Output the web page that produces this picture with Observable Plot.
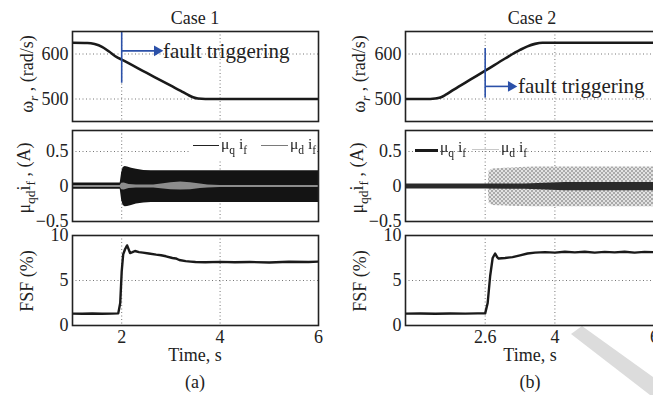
<!DOCTYPE html>
<html><head><meta charset="utf-8">
<script src="https://cdn.jsdelivr.net/npm/d3@7"></script>
<script src="https://cdn.jsdelivr.net/npm/@observablehq/plot@0.6"></script>
<style>
html,body{margin:0;padding:0;background:#fff;}
#fig{position:relative;width:653px;height:395px;overflow:hidden;font-family:"Liberation Serif","Times New Roman",serif;color:#222;}
.lbl{position:absolute;white-space:nowrap;font-size:18px;line-height:18px;}
.rot{transform:translate(-50%,-50%) rotate(-90deg);}
.ctr{transform:translate(-50%,-50%);}
.lbl sub{font-size:0.75em;vertical-align:-0.35em;line-height:0;}
.leg{position:absolute;white-space:nowrap;font-size:15.5px;line-height:16px;color:#222;transform:translateZ(0);will-change:transform;}
.leg sub{font-size:0.75em;vertical-align:-0.4em;line-height:0;}
.sw{position:absolute;height:0;}
#wm{position:absolute;left:0;top:0;width:653px;height:395px;background:#dcdcdc;
 clip-path:polygon(571px 334px,582px 326px,653px 377px,653px 395px,650px 395px);}
svg{position:absolute;}
</style></head>
<body><div id="fig"><div id="wm"></div></div>
<script>
// ---------- data ----------
// tick labels
const timeTicksA = [2, 4, 6];
const timeTicksB = [2.6, 4, 6];
const speedTicks = [500, 600];
const currentTicks = [-0.5, 0, 0.5];
const fsfTicks = [0, 5, 10];

// rotor speed (rad/s)
const speedTimeA = [1, 1.3, 1.45, 1.6, 1.75, 1.9, 2.0, 2.5, 3.0, 3.2, 3.35, 3.45, 3.55, 3.7, 6];
const speedA     = [625, 624.5, 622, 616, 605, 593, 587.5, 558.5, 529.5, 518, 509, 504, 501, 500, 500];
const speedTimeB = [1, 1.5, 1.6, 1.7, 1.8, 1.97, 2.3, 2.61, 3.0, 3.3, 3.45, 3.6, 3.75, 6];
const speedB     = [500, 500, 501, 503.5, 509, 521, 543, 563.5, 590, 609, 617, 622.5, 625, 625];

// fault annotation
const faultTime = [2, 2.6];
const faultRuleLow = [535, 502];
const faultRuleHigh = [648, 612];
const faultArrowY = [607, 528];
const faultArrowEnd = [2.72, 3.12];
const faultTextX = [2.84, 3.26];
const faultLabel = "fault triggering";

// mu_q i_f / mu_d i_f oscillation envelopes (A)
const qTimeA = [1, 1.97, 2.0, 2.03, 2.07, 2.12, 2.2, 2.3, 2.45, 2.6, 3.5, 6];
const qHighA = [0.05, 0.05, 0.2, 0.27, 0.285, 0.28, 0.26, 0.245, 0.23, 0.225, 0.225, 0.225];
const qLowA  = [-0.04, -0.04, -0.2, -0.27, -0.29, -0.285, -0.27, -0.25, -0.235, -0.23, -0.23, -0.23];
const dTimeA = [1, 1.97, 2.0, 2.05, 2.15, 2.3, 2.65, 2.85, 3.0, 3.2, 3.4, 3.6, 3.75, 4, 6];
const dHighA = [0.015, 0.015, 0.045, 0.05, 0.03, 0.02, 0.02, 0.04, 0.055, 0.065, 0.055, 0.035, 0.02, 0.015, 0.015];
const dLowA  = [-0.015, -0.015, -0.045, -0.05, -0.03, -0.02, -0.02, -0.035, -0.045, -0.05, -0.045, -0.03, -0.02, -0.015, -0.015];
const qTimeB = [1, 2.6, 3.4, 3.8, 4.2, 6];
const qHighB = [0.034, 0.034, 0.035, 0.048, 0.057, 0.057];
const qLowB  = [-0.037, -0.037, -0.038, -0.05, -0.06, -0.06];
const dTimeB = [1, 2.66, 2.68, 2.75, 3.0, 3.3, 3.6, 4, 6];
const dHighB = [0.01, 0.01, 0.22, 0.25, 0.26, 0.27, 0.28, 0.28, 0.28];
const dLowB  = [-0.01, -0.01, -0.24, -0.27, -0.28, -0.285, -0.29, -0.29, -0.29];

// FSF (%)
const fsfTimeA = [1, 1.2, 1.4, 1.6, 1.8, 1.93, 1.97, 2.0, 2.03, 2.07, 2.11, 2.17, 2.22, 2.27, 2.35, 2.43, 2.55, 2.7, 2.8, 2.9, 3.03, 3.1, 3.17, 3.3, 3.4, 3.5, 3.7, 4.0, 4.3, 4.6, 5.0, 5.4, 5.8, 6];
const fsfA     = [1.32, 1.3, 1.33, 1.3, 1.32, 1.35, 2.5, 6.0, 7.9, 8.5, 8.9, 8.05, 8.15, 8.28, 8.15, 8.1, 8.0, 7.87, 7.8, 7.69, 7.5, 7.45, 7.28, 7.15, 7.1, 7.05, 7.02, 7.07, 7.02, 7.06, 7.0, 7.08, 7.05, 7.1];
const fsfTimeB = [1, 1.3, 1.6, 1.9, 2.2, 2.45, 2.6, 2.65, 2.7, 2.75, 2.8, 2.84, 2.87, 3.0, 3.15, 3.3, 3.45, 3.6, 3.8, 4.0, 4.2, 4.4, 4.6, 4.8, 5.0, 5.2, 5.4, 5.6, 5.8, 6];
const fsfB     = [1.32, 1.33, 1.3, 1.34, 1.32, 1.35, 1.35, 2.5, 5.5, 7.5, 8.0, 7.6, 7.44, 7.5, 7.6, 7.8, 8.0, 8.1, 8.15, 8.1, 8.2, 8.12, 8.2, 8.1, 8.18, 8.12, 8.2, 8.1, 8.18, 8.15];

// ---------- helpers ----------
const zip = (t, ...cols) => t.map((x, i) => ({t: x, a: cols[0][i], b: cols[1] ? cols[1][i] : undefined}));
const fig = document.getElementById("fig");
const FONT = '"Liberation Serif","Times New Roman",serif';
const fmt = d => (d < 0 ? "\u2212" + Math.abs(d) : String(d));

function panel({left, top, frameW, frameH, yDomain, yTicks, xTicks, xAxis, gridX, marks, defs}) {
  const mL = 45, mR = 5, mT = 3, mB = xAxis ? 28 : 3;
  const chart = Plot.plot({
    width: mL + frameW + mR, height: mT + frameH + mB,
    marginLeft: mL, marginRight: mR, marginTop: mT, marginBottom: mB,
    style: {fontFamily: FONT, fontSize: "18px", background: "transparent", overflow: "visible", color: "#222"},
    x: xAxis ? {domain: [1, 6], label: null} : {domain: [1, 6], label: null, axis: null},
    y: {domain: yDomain, label: null},
    marks: [
      Plot.ruleX(gridX, {stroke: "#666", strokeWidth: 0.9, strokeDasharray: "1,2.5"}),
      Plot.ruleY(yTicks, {stroke: "#666", strokeWidth: 0.9, strokeDasharray: "1,2.5"}),
      ...marks,
      Plot.axisY({ticks: yTicks, tickSize: 0, tickPadding: 4, tickFormat: fmt, fontSize: 18, label: null}),
      ...(xAxis ? [Plot.axisX({ticks: xTicks, tickSize: 0, tickPadding: 5, tickFormat: fmt, fontSize: 18, label: null})] : []),
      Plot.frame({stroke: "#222", strokeWidth: 1.6})
    ]
  });
  if (defs) chart.insertAdjacentHTML("afterbegin", defs);
  chart.style.left = (left - mL) + "px";
  chart.style.top = (top - mT) + "px";
  fig.appendChild(chart);
}

function faultMarks(i) {
  const d = [{x: faultTime[i], y1: faultRuleLow[i], y2: faultRuleHigh[i], ya: faultArrowY[i], xe: faultArrowEnd[i], xt: faultTextX[i]}];
  return [
    Plot.ruleX(d, {x: "x", y1: "y1", y2: "y2", stroke: "#2b50a8", strokeWidth: 1.6}),
    Plot.link(d, {x1: "x", x2: "xe", y1: "ya", y2: "ya", stroke: "#2b50a8", strokeWidth: 1.6}),
    Plot.dot(d, {x: "xe", y: "ya", symbol: "triangle", rotate: 90, r: 4, fill: "#2b50a8", stroke: "none"}),
    Plot.text(d, {x: "xt", y: "ya", text: () => faultLabel, textAnchor: "start", fontSize: 21, fill: "#222"})
  ];
}

const hatch = '<defs><pattern id="hatch" width="4" height="4" patternUnits="userSpaceOnUse">' +
  '<rect width="4" height="4" fill="#e2e2e2"/><path d="M0,0L4,4M4,0L0,4" stroke="#9c9c9c" stroke-width="0.8"/></pattern></defs>';

const cols = [
  {left: 72, frameW: 246, xTicks: timeTicksA, gridX: [2, 4]},
  {left: 405, frameW: 249, xTicks: timeTicksB, gridX: [2.6, 4]}
];
const speedData = [zip(speedTimeA, speedA), zip(speedTimeB, speedB)];
const qData = [zip(qTimeA, qLowA, qHighA), zip(qTimeB, qLowB, qHighB)];
const dData = [zip(dTimeA, dLowA, dHighA), zip(dTimeB, dLowB, dHighB)];
const fsfData = [zip(fsfTimeA, fsfA), zip(fsfTimeB, fsfB)];

cols.forEach((c, i) => {
  panel({...c, top: 31, frameH: 90, yDomain: [450, 650], yTicks: speedTicks, xAxis: false,
    marks: [Plot.line(speedData[i], {x: "t", y: "a", stroke: "#1a1a1a", strokeWidth: 2.6, curve: "monotone-x", clip: true}), ...faultMarks(i)]});
  const cur = i === 0
    ? [Plot.areaY(qData[0], {x: "t", y1: "a", y2: "b", fill: "#141414", clip: true}),
       Plot.areaY(dData[0], {x: "t", y1: "a", y2: "b", fill: "#8c8c8c", clip: true})]
    : [Plot.areaY(dData[1], {x: "t", y1: "a", y2: "b", fill: "url(#hatch)", clip: true}),
       Plot.areaY(qData[1], {x: "t", y1: "a", y2: "b", fill: "#2a2a2a", clip: true})];
  panel({...c, top: 130, frameH: 91, yDomain: [-0.5, 0.8], yTicks: currentTicks, xAxis: false, marks: cur, defs: i === 1 ? hatch : null});
  panel({...c, top: 235, frameH: 90, yDomain: [0, 10], yTicks: fsfTicks, xAxis: true,
    marks: [Plot.line(fsfData[i], {x: "t", y: "a", stroke: "#1a1a1a", strokeWidth: 2.4, clip: true})]});
});

// ---------- text ----------
function addLbl(html, x, y, rot) {
  const d = document.createElement("div");
  d.className = "lbl " + (rot ? "rot" : "ctr");
  d.innerHTML = html;
  d.style.left = x + "px"; d.style.top = y + "px";
  fig.appendChild(d);
}
addLbl("Case 1", 195, 18);
addLbl("Case 2", 532, 18);
addLbl("Time, s", 195, 355);
addLbl("Time, s", 530, 355);
addLbl("(a)", 195, 382);
addLbl("(b)", 530, 382);
addLbl('ω<sub><i>r</i></sub> , (rad/s)', 27, 74, true);
addLbl('ω<sub><i>r</i></sub> , (rad/s)', 359, 74, true);
addLbl('μ<sub>qd</sub>i<sub>f</sub> , (A)', 24, 178, true);
addLbl('μ<sub>qd</sub>i<sub>f</sub> , (A)', 357, 178, true);
addLbl('FSF (%)', 27, 281, true);
addLbl('FSF (%)', 360, 281, true);

// legends
function sw(x1, x2, y, color, w) {
  const d = document.createElement("div");
  d.className = "sw";
  d.style.left = x1 + "px"; d.style.width = (x2 - x1) + "px";
  d.style.top = (y - w / 2) + "px"; d.style.borderTop = w + "px solid " + color;
  fig.appendChild(d);
}
function leg(html, x, y) {
  const d = document.createElement("div");
  d.className = "leg"; d.innerHTML = html;
  d.style.left = x + "px"; d.style.top = y + "px";
  fig.appendChild(d);
}
const bg = document.createElement("div");
bg.style.cssText = "position:absolute;left:190px;top:139px;width:127px;height:22px;background:#fff;";
fig.appendChild(bg);
sw(193, 219, 146, "#222", 1.2);
leg('μ<sub>q</sub> i<sub>f</sub>', 221, 136);
sw(261, 288, 146, "#7a7a7a", 1.2);
leg('μ<sub>d</sub> i<sub>f</sub>', 290, 136);
sw(415, 438, 150, "#1a1a1a", 3);
leg('μ<sub>q</sub> i<sub>f</sub>', 440, 139);
sw(472, 499, 150, "#c8c8c8", 1.2);
leg('μ<sub>d</sub> i<sub>f</sub>', 501, 139);
</script>
</body></html>
